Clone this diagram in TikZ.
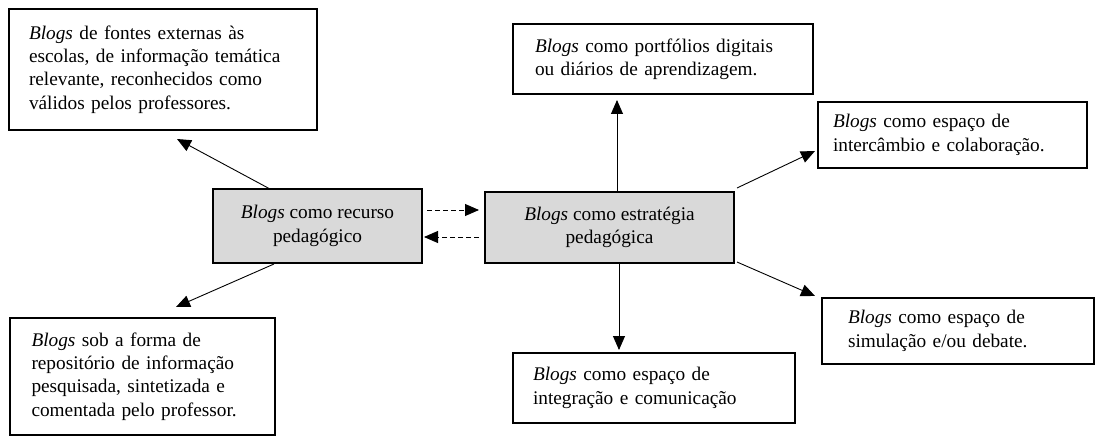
\documentclass[tikz,border=0pt]{standalone}
\usepackage{fontspec}
\setmainfont{Liberation Serif}
\usetikzlibrary{arrows.meta}
\definecolor{boxgray}{HTML}{D9D9D9}
\tikzset{
  txt/.style={font=\fontsize{19.3pt}{23.3pt}\selectfont},
  wbox/.style={draw=black, line width=1.5pt, fill=white, rectangle, txt, align=left, inner ysep=0pt, outer sep=0pt},
  gbox/.style={draw=black, line width=1.5pt, fill=boxgray, rectangle, txt, align=center, inner sep=0pt, outer sep=0pt},
  conn/.style={line width=0.9pt, -{Triangle[length=14pt,width=12pt]}},
  dconn/.style={conn, dash pattern=on 5pt off 3pt},
}
\begin{document}
\begin{tikzpicture}[x=1pt,y=-1pt]
\useasboundingbox (0,0) rectangle (1096,436);
% white boxes
\node[wbox, minimum width=308pt, minimum height=121pt, text width=268pt, inner xsep=20pt] (b1) at (163,69.5)
  {\textit{Blogs} de fontes externas às\\escolas, de informação temática\\relevante, reconhecidos como\\válidos pelos professores.};
\node[wbox, minimum width=265pt, minimum height=117pt, text width=222pt, inner xsep=21.5pt] (b2) at (142.5,376.5)
  {\textit{Blogs} sob a forma de\\repositório de informação\\pesquisada, sintetizada e\\comentada pelo professor.};
\node[wbox, minimum width=300pt, minimum height=70pt, text width=256pt, inner xsep=22pt] (tm) at (663,59)
  {\textit{Blogs} como portfólios digitais\\ou diários de aprendizagem.};
\node[wbox, minimum width=269pt, minimum height=66pt, text width=239pt, inner xsep=15pt] (ru) at (952.5,135)
  {\textit{Blogs} como espaço de\\intercâmbio e colaboração.};
\node[wbox, minimum width=272pt, minimum height=66pt, text width=220pt, inner xsep=26pt] (rl) at (958,331)
  {\textit{Blogs} como espaço de\\simulação e/ou debate.};
\node[wbox, minimum width=282pt, minimum height=70pt, text width=242pt, inner xsep=20pt] (bm) at (654,388)
  {\textit{Blogs} como espaço de\\integração e comunicação};
% gray boxes
\node[gbox, minimum width=209pt, minimum height=74pt] (rec) at (317.5,226)
  {\textit{Blogs} como recurso\\pedagógico};
\node[gbox, minimum width=249pt, minimum height=71pt] (est) at (609.5,227.5)
  {\textit{Blogs} como estratégia\\pedagógica};
% connectors
\draw[conn] ([xshift=57pt]rec.north west) -- ([xshift=168pt,yshift=-9pt]b1.south west);
\draw[conn] ([xshift=61pt,yshift=-1pt]rec.south west) -- ([xshift=166pt,yshift=11pt]b2.north west);
\draw[dconn] ([xshift=5pt,yshift=16pt]rec.east) -- ([xshift=-6pt,yshift=17.5pt]est.west);
\draw[dconn] ([xshift=-6pt,yshift=-9.5pt]est.west) -- ([xshift=2pt,yshift=-11pt]rec.east);
\draw[conn] ([xshift=7.5pt]est.north) -- ([xshift=-46pt,yshift=-6pt]tm.south);
\draw[conn] ([xshift=3pt,yshift=4pt]est.north east) -- ([xshift=-3pt,yshift=17pt]ru.south west);
\draw[conn] ([xshift=3pt,yshift=1pt]est.south east) -- ([xshift=-7pt,yshift=2pt]rl.north west);
\draw[conn] ([xshift=9.5pt]est.south) -- ([xshift=-35pt,yshift=3pt]bm.north);
\end{tikzpicture}
\end{document}
